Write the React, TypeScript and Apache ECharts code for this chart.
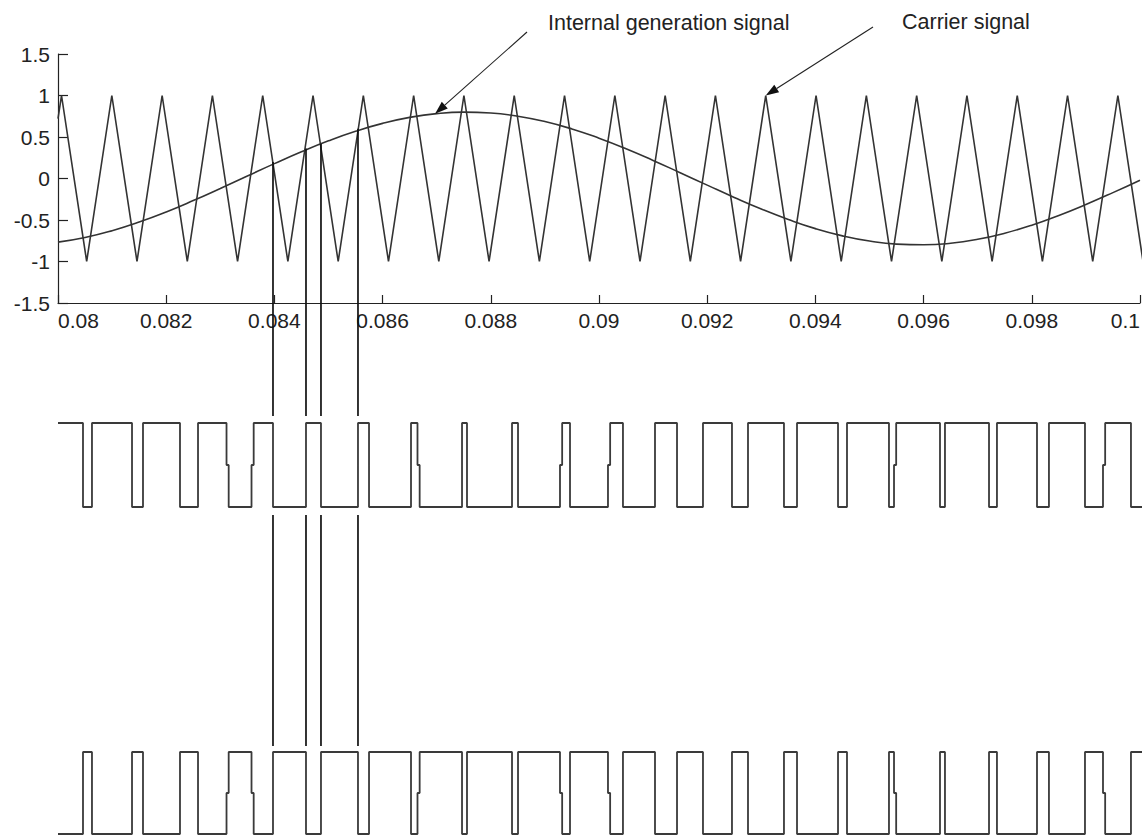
import React, { useEffect, useRef } from "react";
import * as echarts from "echarts";

// ---- data ----
const xMin = 0.08;
const xMax = 0.1;
const xInterval = 0.002;
const yMin = -1.5;
const yMax = 1.5;
const yInterval = 0.5;

// modulating ("internal generation") signal samples
const sineTimes = [
  0.08, 0.0805, 0.081, 0.0815, 0.082, 0.0825, 0.083, 0.0835, 0.084, 0.0845,
  0.085, 0.0855, 0.086, 0.0865, 0.087, 0.0875, 0.088, 0.0885, 0.089, 0.0895,
  0.09, 0.0905, 0.091, 0.0915, 0.092, 0.0925, 0.093, 0.0935, 0.094, 0.0945,
  0.095, 0.0955, 0.096, 0.0965, 0.097, 0.0975, 0.098, 0.0985, 0.099, 0.0995, 0.1,
];
const sineValues = [
  -0.767, -0.711, -0.629, -0.525, -0.403, -0.266, -0.12, 0.03, 0.179, 0.322,
  0.454, 0.569, 0.664, 0.736, 0.782, 0.8, 0.789, 0.751, 0.686, 0.597,
  0.486, 0.359, 0.218, 0.07, -0.08, -0.228, -0.368, -0.494, -0.604, -0.691,
  -0.754, -0.791, -0.799, -0.78, -0.732, -0.659, -0.563, -0.445, -0.313, -0.17, -0.02,
];

// carrier (triangle) vertices
const carrierTimes = [
  0.08, 0.080065, 0.08053, 0.080995, 0.08146, 0.081925, 0.08239, 0.082854, 0.083319,
  0.083784, 0.084249, 0.084714, 0.085179, 0.085644, 0.086109, 0.086574, 0.087039,
  0.087503, 0.087968, 0.088433, 0.088898, 0.089363, 0.089828, 0.090293, 0.090758,
  0.091223, 0.091688, 0.092152, 0.092617, 0.093082, 0.093547, 0.094012, 0.094477,
  0.094942, 0.095407, 0.095872, 0.096337, 0.096801, 0.097266, 0.097731, 0.098196,
  0.098661, 0.099126, 0.099591, 0.100056,
];
const carrierLevels = [
  0.72, 1, -1, 1, -1, 1, -1, 1, -1, 1, -1, 1, -1, 1, -1, 1, -1, 1, -1, 1, -1, 1, -1,
  1, -1, 1, -1, 1, -1, 1, -1, 1, -1, 1, -1, 1, -1, 1, -1, 1, -1, 1, -1, 1, -1,
];

// switching instants of the upper gate signal (starts high, alternates)
const pwmStartLevel = 1;
const pwmEdges = [
  0.080462, 0.080628, 0.081368, 0.081571, 0.082255, 0.082588, 0.083115, 0.083577,
  0.083974, 0.084584, 0.084861, 0.085545, 0.085749, 0.086525, 0.086645, 0.087468,
  0.08756, 0.088392, 0.088503, 0.089279, 0.089464, 0.090166, 0.090443, 0.091035,
  0.091442, 0.091922, 0.092458, 0.092754, 0.093419, 0.09366, 0.094418, 0.094584,
  0.09536, 0.095453, 0.096303, 0.096395, 0.097209, 0.097356, 0.098096, 0.098317,
  0.098983, 0.099316, 0.099833,
];
const pwmEnd = 0.100037;
// edges where one sample sits at the mid level (0)
const notchedEdges = [6, 7, 14, 19, 21, 33, 41];
const notchHold = 0.00004;

// edges that are projected down with vertical guide lines, and their start level on the top plot
const linkedEdges = [8, 9, 10, 11];
const linkStartValues = [0.2, 0.36, 0.42, 0.6];

// annotations
const annotationLabels = ["Internal generation signal", "Carrier signal"];
const annotationTargets = [
  [0.08697, 0.779],
  [0.093082, 1],
];

// ---- helpers ----
function buildPwm(invert: boolean) {
  const s = invert ? -1 : 1;
  const pts: number[][] = [[xMin, s * pwmStartLevel]];
  let level = pwmStartLevel;
  pwmEdges.forEach((t, i) => {
    const next = -level;
    if (notchedEdges.indexOf(i) >= 0) {
      pts.push([t, s * level], [t, 0], [t + notchHold, 0], [t + notchHold, s * next]);
    } else {
      pts.push([t, s * level], [t, s * next]);
    }
    level = next;
  });
  pts.push([pwmEnd, s * level]);
  return pts;
}

const FONT = 'Arial, "Liberation Sans", Helvetica, sans-serif';
const INK = "#222";
const WAVE = "#333";

export default function App() {
  const ref = useRef<HTMLDivElement>(null);

  useEffect(() => {
    if (!ref.current) return;
    const chart = echarts.init(ref.current, undefined, { renderer: "svg" });

    const hiddenX = (gi: number) => ({
      type: "value",
      gridIndex: gi,
      min: xMin,
      max: xMax,
      show: false,
    });
    const hiddenY = (gi: number) => ({
      type: "value",
      gridIndex: gi,
      min: -1,
      max: 1,
      show: false,
    });

    const lineStyleSquare = { color: "#3a3a3a", width: 1.8 };

    chart.setOption({
      animation: false,
      backgroundColor: "#fff",
      grid: [
        { left: 58, top: 54, width: 1082, height: 249, outerBoundsMode: "none" },
        { left: 58, top: 423, width: 1082, height: 84, outerBoundsMode: "none" },
        { left: 58, top: 752, width: 1082, height: 82, outerBoundsMode: "none" },
      ],
      xAxis: [
        {
          type: "value",
          gridIndex: 0,
          min: xMin,
          max: xMax,
          interval: xInterval,
          axisLine: { show: true, onZero: false, lineStyle: { color: INK, width: 1.2 } },
          axisTick: { show: true, inside: true, length: 8, lineStyle: { color: INK, width: 1.2 } },
          axisLabel: {
            color: INK,
            fontSize: 21,
            fontFamily: FONT,
            margin: 7,
            alignMinLabel: "left",
            alignMaxLabel: "right",
            formatter: (v: number) => String(+v.toFixed(3)),
          },
          splitLine: { show: false },
        },
        hiddenX(1),
        hiddenX(2),
      ],
      yAxis: [
        {
          type: "value",
          gridIndex: 0,
          min: yMin,
          max: yMax,
          interval: yInterval,
          axisLine: { show: true, onZero: false, lineStyle: { color: INK, width: 1.2 } },
          axisTick: { show: true, inside: true, length: 10, lineStyle: { color: INK, width: 1.2 } },
          axisLabel: {
            color: INK,
            fontSize: 21,
            fontFamily: FONT,
            margin: 8,
            formatter: (v: number) => String(+v.toFixed(2)),
          },
          splitLine: { show: false },
        },
        hiddenY(1),
        hiddenY(2),
      ],
      series: [
        {
          name: "Carrier signal",
          type: "line",
          xAxisIndex: 0,
          yAxisIndex: 0,
          data: carrierTimes.map((t, i) => [t, carrierLevels[i]]),
          showSymbol: false,
          clip: false,
          lineStyle: { color: WAVE, width: 1.6 },
        },
        {
          name: "Internal generation signal",
          type: "line",
          xAxisIndex: 0,
          yAxisIndex: 0,
          data: sineTimes.map((t, i) => [t, sineValues[i]]),
          showSymbol: false,
          smooth: true,
          lineStyle: { color: WAVE, width: 1.6 },
        },
        {
          name: "Upper gate",
          type: "line",
          xAxisIndex: 1,
          yAxisIndex: 1,
          data: buildPwm(false),
          showSymbol: false,
          clip: false,
          lineStyle: lineStyleSquare,
        },
        {
          name: "Lower gate",
          type: "line",
          xAxisIndex: 2,
          yAxisIndex: 2,
          data: buildPwm(true),
          showSymbol: false,
          clip: false,
          lineStyle: lineStyleSquare,
        },
      ],
    });

    // annotations and guide lines, placed with the library's own scales
    const px = (gi: number, p: number[]) =>
      chart.convertToPixel({ gridIndex: gi } as any, p) as unknown as number[];

    const graphics: any[] = [];
    linkedEdges.forEach((ei, k) => {
      const t = pwmEdges[ei];
      const top = px(0, [t, linkStartValues[k]]);
      const up1 = px(1, [t, 1]);
      const lo1 = px(1, [t, -1]);
      const up2 = px(2, [t, 1]);
      const style = { stroke: "#111", lineWidth: 1.7 };
      graphics.push({
        type: "line",
        shape: { x1: top[0], y1: top[1], x2: top[0], y2: up1[1] - 7 },
        style,
        z: 10,
      });
      graphics.push({
        type: "line",
        shape: { x1: top[0], y1: lo1[1] + 8, x2: top[0], y2: up2[1] - 6 },
        style,
        z: 10,
      });
    });

    const tails = [
      [527, 32],
      [873, 27],
    ];
    const textPos = [
      [548, 12],
      [902, 11],
    ];
    annotationTargets.forEach((target, i) => {
      const tip = px(0, target);
      const tail = tails[i];
      const dx = tip[0] - tail[0];
      const dy = tip[1] - tail[1];
      const len = Math.sqrt(dx * dx + dy * dy);
      const ux = dx / len;
      const uy = dy / len;
      const L = 13;
      const W = 9;
      const bx = tip[0] - ux * L;
      const by = tip[1] - uy * L;
      graphics.push({
        type: "line",
        shape: { x1: tail[0], y1: tail[1], x2: bx, y2: by },
        style: { stroke: "#222", lineWidth: 1.1 },
        z: 20,
      });
      graphics.push({
        type: "polygon",
        shape: {
          points: [
            [tip[0], tip[1]],
            [bx - uy * (W / 2), by + ux * (W / 2)],
            [bx + uy * (W / 2), by - ux * (W / 2)],
          ],
        },
        style: { fill: "#111" },
        z: 20,
      });
      graphics.push({
        type: "text",
        x: textPos[i][0],
        y: textPos[i][1],
        style: {
          text: annotationLabels[i],
          fill: INK,
          fontSize: 21.5,
          fontFamily: FONT,
          textVerticalAlign: "top",
        },
        z: 20,
      });
    });

    chart.setOption({ graphic: graphics });

    return () => chart.dispose();
  }, []);

  return (
    <div
      ref={ref}
      style={{ position: "fixed", left: 0, top: 0, width: 1145, height: 835, background: "#fff" }}
    />
  );
}
